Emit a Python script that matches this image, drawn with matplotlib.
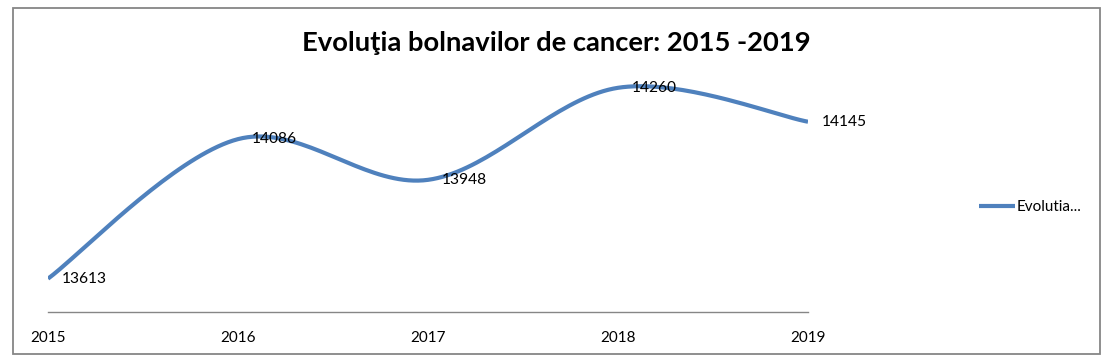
import numpy as np
import matplotlib.pyplot as plt
from matplotlib.patches import Rectangle

plt.rcParams['font.family'] = ['Lato', 'DejaVu Sans']

years = ["2015", "2016", "2017", "2018", "2019"]
cazuri = [13613, 14086, 13948, 14260, 14145]
serie = "Evolutia..."
titlu = "Evoluţia bolnavilor de cancer: 2015 -2019"


def smooth(xs, ys, n=40):
    # curba netezita ca in Excel (Catmull-Rom cu bezier)
    xs = np.asarray(xs, float)
    ys = np.asarray(ys, float)
    px, py = [], []
    t = np.linspace(0, 1, n)
    for i in range(len(xs) - 1):
        i0 = max(i - 1, 0)
        i3 = min(i + 2, len(xs) - 1)
        c1x = xs[i] + (xs[i + 1] - xs[i0]) / 6
        c1y = ys[i] + (ys[i + 1] - ys[i0]) / 6
        c2x = xs[i + 1] - (xs[i3] - xs[i]) / 6
        c2y = ys[i + 1] - (ys[i3] - ys[i]) / 6
        bx = ((1 - t) ** 3 * xs[i] + 3 * (1 - t) ** 2 * t * c1x
              + 3 * (1 - t) * t ** 2 * c2x + t ** 3 * xs[i + 1])
        by = ((1 - t) ** 3 * ys[i] + 3 * (1 - t) ** 2 * t * c1y
              + 3 * (1 - t) * t ** 2 * c2y + t ** 3 * ys[i + 1])
        px.extend(bx)
        py.extend(by)
    return px, py


W, H = 1112, 364
fig = plt.figure(figsize=(W / 100, H / 100), dpi=100)
ax = fig.add_axes([48 / W, 52 / H, 760 / W, 236 / H])

x = np.arange(len(years))
sx, sy = smooth(x, cazuri)
ax.plot(sx, sy, color="#4f81bd", lw=3, label=serie, solid_capstyle="butt")

for xi, v in zip(x, cazuri):
    ax.annotate(str(v), (xi, v), xytext=(10, 0), textcoords="offset points",
                va="center", ha="left", fontsize=11.2)

ax.set_xlim(0, 4)
ax.set_ylim(13500, 14300)
ax.set_xticks(x)
ax.set_xticklabels(years, fontsize=11)
ax.set_yticks([])
ax.tick_params(axis="x", length=0, pad=14)
for s in ["top", "left", "right"]:
    ax.spines[s].set_visible(False)
ax.spines["bottom"].set_color("#868686")
ax.spines["bottom"].set_linewidth(1)

fig.text(556 / W, 1 - 43 / H, titlu, ha="center", va="center",
         fontsize=19.7, fontweight="bold")

fig.legend(loc="center left", bbox_to_anchor=(965 / W, 1 - 207 / H),
           frameon=False, fontsize=11, handlelength=2.4, handletextpad=0.1)

fig.patches.append(Rectangle((13 / W, 1 - 354 / H), 1087 / W, 346 / H,
                             transform=fig.transFigure, fill=False,
                             edgecolor="#868686", lw=1.3))

fig.savefig("out.png", dpi=100)
